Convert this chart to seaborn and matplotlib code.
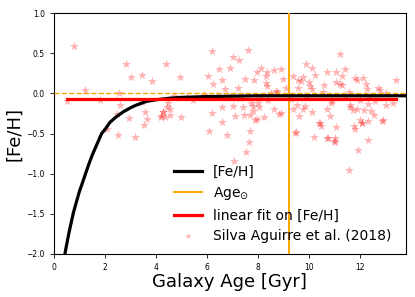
import matplotlib
matplotlib.use("Agg")
import matplotlib.pyplot as plt
import seaborn as sns
import numpy as np

# Model [Fe/H] curve
curve_age = [0.43, 0.5, 0.6, 0.76, 0.9, 1.0, 1.1, 1.24, 1.37, 1.5, 1.65, 1.87, 2.0, 2.2, 2.45,
             2.72, 3.0, 3.2, 3.63, 4.0, 4.55, 5.0, 6.0, 8.0, 10.0, 13.8]
curve_feh = [-2.0, -1.88, -1.72, -1.49, -1.33, -1.22, -1.13, -1.0, -0.88, -0.77, -0.66, -0.5, -0.45,
             -0.36, -0.29, -0.23, -0.18, -0.15, -0.10, -0.08, -0.06, -0.05, -0.04, -0.03, -0.03, -0.03]

# Linear fit
fit_age = [0.5, 13.4]
fit_feh = [-0.075, -0.075]

age_sun = 9.2

# Silva Aguirre et al. (2018) stars
star_age = [0.78, 2.82, 4.39, 3.46, 3.02, 3.86, 1.2, 2.55, 0.52, 1.8, 2.58, 3.44, 3.57, 2.46, 2.93,
            3.66, 3.53, 2.07, 2.52, 3.16, 4.2, 4.29, 4.42, 4.48, 4.55, 4.35,
            6.21, 7.61, 7.03, 7.25, 6.48, 6.9, 8.13, 7.97, 8.34, 8.63, 6.03, 4.94, 6.59, 7.49,
            7.84, 8.33, 6.24, 8.31, 8.37, 7.23, 6.72, 8.72, 4.71, 5.44, 8.03, 7.99, 7.73, 8.39,
            4.26, 4.57, 4.18, 4.98, 6.6, 7.01, 7.42, 7.82, 8.05, 7.79, 8.64, 6.21, 7.09, 7.45,
            7.69, 7.95, 7.88, 8.24, 8.84, 6.6, 6.09, 6.8, 7.69, 7.66, 7.52, 7.07,
            9.46, 10.21, 10.4, 10.46, 10.75, 11.03, 11.0, 11.05, 11.76, 11.8, 12.08, 12.3, 12.3,
            11.91, 11.58, 12.87,
            11.2, 8.89, 10.12, 9.87, 10.24, 10.72, 11.05, 11.4, 11.3, 9.36, 9.78, 9.56, 9.69,
            8.99, 10.01, 10.04, 10.1, 10.59, 11.05, 11.22, 11.29, 11.8, 11.89, 12.13, 12.22,
            12.29, 12.69, 12.78, 13.4, 13.02, 8.73, 9.1, 9.58, 10.56, 11.57,
            8.89, 9.36, 9.52, 9.84, 9.78, 10.1, 9.6, 10.72, 10.82, 11.6, 11.74, 11.89, 11.61,
            12.3, 12.17, 12.42, 12.55, 12.91, 13.04, 13.3, 12.0, 12.09, 10.43, 9.48, 10.72,
            11.02, 10.85, 12.02, 12.4, 5.9, 6.4, 7.3, 9.9, 10.9, 11.4, 12.6, 9.3, 6.9, 5.2, 8.5]
star_feh = [0.59, 0.36, 0.36, 0.23, 0.20, 0.15, 0.04, 0.0, -0.10, -0.08, -0.14, -0.11, -0.23, -0.26,
            -0.31, -0.32, -0.39, -0.44, -0.52, -0.54, -0.28, -0.23, -0.17, -0.12, -0.20, -0.30,
            0.53, 0.54, 0.45, 0.41, 0.30, 0.32, 0.32, 0.27, 0.27, 0.29, 0.22, 0.20, 0.17, 0.18,
            0.17, 0.21, 0.12, 0.13, 0.09, 0.07, 0.05, 0.03, -0.03, -0.08, -0.06, -0.12, -0.12,
            -0.08, -0.23, -0.27, -0.29, -0.30, -0.17, -0.16, -0.17, -0.16, -0.17, -0.22, -0.20,
            -0.24, -0.28, -0.27, -0.27, -0.32, -0.33, -0.30, -0.26, -0.36, -0.47, -0.52, -0.47,
            -0.60, -0.73, -0.84,
            -0.49, -0.54, -0.37, -0.41, -0.56, -0.55, -0.59, -0.42, -0.41, -0.45, -0.37, -0.35,
            -0.58, -0.70, -0.96, -0.35,
            0.49, 0.30, 0.31, 0.37, 0.23, 0.26, 0.26, 0.30, 0.22, 0.21, 0.20, 0.17, 0.15,
            0.18, 0.14, 0.09, 0.05, 0.10, 0.14, 0.12, 0.10, 0.19, 0.17, 0.19, 0.12,
            0.06, 0.07, 0.04, 0.17, 0.01, 0.02, 0.07, 0.07, 0.02, 0.02,
            -0.25, -0.19, -0.15, -0.16, -0.19, -0.23, -0.28, -0.19, -0.28, -0.17, -0.21, -0.20,
            -0.15, -0.13, -0.21, -0.22, -0.27, -0.33, -0.15, -0.12, -0.33, -0.37, -0.37, -0.48,
            -0.56, -0.60, -0.12, -0.08, -0.05, -0.02, -0.03, -0.06, -0.05, -0.09, -0.04, -0.10,
            -0.07, -0.05, -0.04, 0.01]

fig = plt.figure(figsize=(4.15, 2.97), dpi=100)
ax = fig.add_axes([0.130, 0.145, 0.848, 0.811])

ax.axhline(0.0, color="#ffa500", ls="--", lw=1.0, zorder=3)
sns.scatterplot(x=star_age, y=star_feh, ax=ax, marker="*", color="red", alpha=0.3,
                s=45, linewidth=0, label="Silva Aguirre et al. (2018)", zorder=2)
sns.lineplot(x=curve_age, y=curve_feh, ax=ax, color="black", lw=2.3, sort=False,
             estimator=None, label="[Fe/H]", zorder=4)
ax.axvline(age_sun, color="#ffa500", lw=1.4, label=r"Age$_{\odot}$", zorder=3)
sns.lineplot(x=fit_age, y=fit_feh, ax=ax, color="red", lw=2.3, sort=False,
             estimator=None, label="linear fit on [Fe/H]", zorder=5)

ax.set_xlim(0, 13.8)
ax.set_ylim(-2.0, 1.0)
ax.set_xticks([0, 2, 4, 6, 8, 10, 12])
ax.set_yticks([-2.0, -1.5, -1.0, -0.5, 0.0, 0.5, 1.0])
ax.tick_params(labelsize=5.5, length=3, width=0.6)
for s in ax.spines.values():
    s.set_linewidth(0.8)
ax.set_xlabel("Galaxy Age [Gyr]", fontsize=13, labelpad=1)
ax.set_ylabel("[Fe/H]", fontsize=13, labelpad=2)

h, l = ax.get_legend_handles_labels()
order = [l.index("[Fe/H]"), l.index(r"Age$_{\odot}$"), l.index("linear fit on [Fe/H]"),
         l.index("Silva Aguirre et al. (2018)")]
ax.legend([h[i] for i in order], [l[i] for i in order], loc="lower right",
          bbox_to_anchor=(0.99, 0.0), frameon=False, fontsize=10, handlelength=2.0,
          labelspacing=0.45, borderpad=0.3, markerscale=0.7)

fig.savefig("out.png", dpi=100)
